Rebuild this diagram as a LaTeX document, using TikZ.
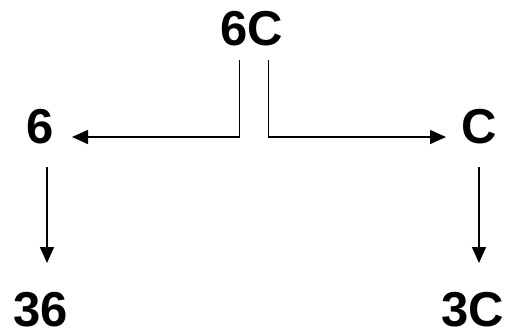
\documentclass[tikz,border=0pt]{standalone}
\usepackage{fontspec}
\setmainfont{Liberation Sans}
\usetikzlibrary{arrows.meta}
\begin{document}
\begin{tikzpicture}[x=1pt,y=-1pt,
  lbl/.style={font=\fontsize{49}{55}\selectfont\bfseries, inner sep=0pt, anchor=base},
  arr/.style={line width=1.5pt, -{Triangle[length=16pt,width=14pt]}},
  ln/.style={line width=1.5pt}]
\useasboundingbox (0,0) rectangle (507,333);
\node[lbl] (top) at (252,45) {6C};
\node[lbl] (six) at (40,143) {6};
\node[lbl] (c) at (479,143) {C};
\node[lbl] (tsix) at (41,326) {36};
\node[lbl] (tc) at (473,326) {3C};
\coordinate (l0) at (239.5,60);
\coordinate (r0) at (268.5,60);
\coordinate (lt) at (72,137);
\coordinate (rt) at (446,137);
\coordinate (d1s) at (47,167);
\coordinate (d1e) at (47,263);
\coordinate (d2s) at (479,167);
\coordinate (d2e) at (479,263);
\draw[arr] (l0) |- (lt);
\draw[arr] (r0) |- (rt);
\draw[arr] (d1s) -- (d1e);
\draw[arr] (d2s) -- (d2e);
\end{tikzpicture}
\end{document}
